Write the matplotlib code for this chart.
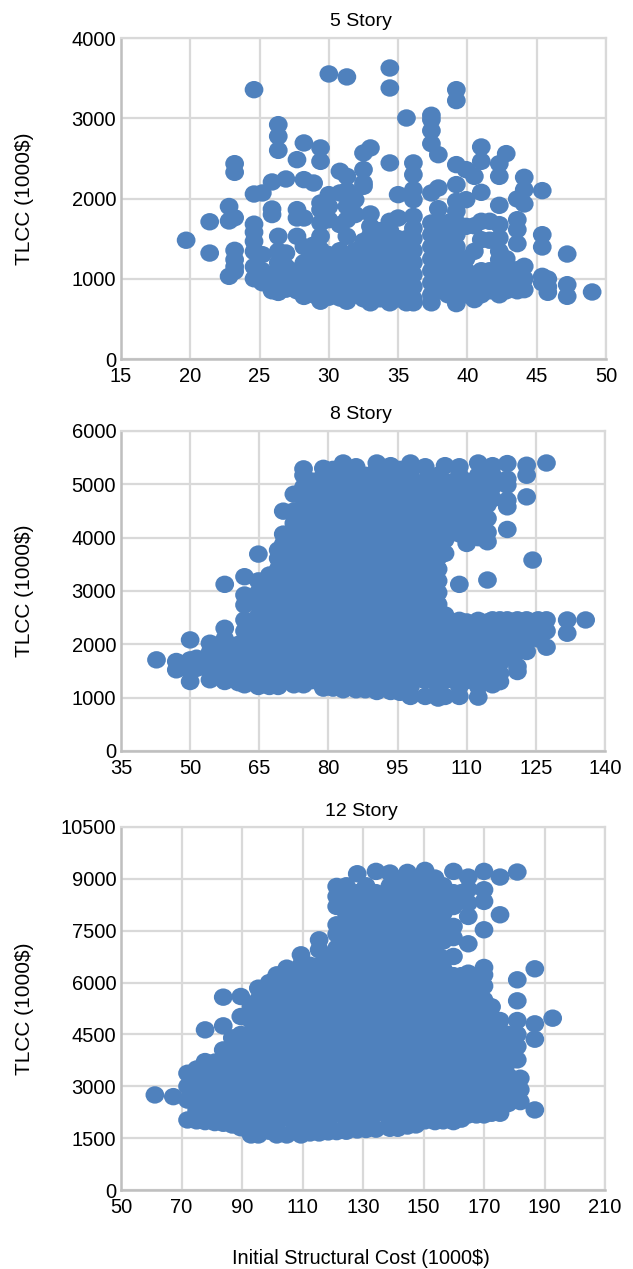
import matplotlib
matplotlib.use('Agg')
import matplotlib.pyplot as plt
from matplotlib.path import Path
from matplotlib.transforms import Affine2D
import numpy as np

plt.rcParams['font.family'] = ['Liberation Sans', 'DejaVu Sans']

# every list in y_* is one column of points at the matching x_*
x_5 = [19.7, 21.4, 22.8, 23.2, 24.6, 25.2, 25.9, 26.35, 26.9, 27.7, 28.2, 28.9, 29.4, 30.0, 30.8,
       31.3, 31.9, 32.5, 33.0, 33.7, 34.4, 35.0, 35.6, 36.1, 37.4, 37.9, 38.6, 39.2, 39.9, 40.5,
       41.0, 41.6, 42.3, 42.8, 43.6, 44.1, 45.4, 45.8, 47.2, 49.0]
y_5 = [
    [1480],
    [1710, 1320],
    [1900, 1720, 1030],
    [2434, 2326, 1760, 1354, 1238, 1150, 1093],
    [3356, 2056, 1680, 1580, 1466, 1340, 1150, 1000],
    [2069, 1300, 1100, 950],
    [2206, 1869, 1800, 1050, 900, 850],
    [2920, 2775, 2600, 1529, 1342, 1200, 1050, 900, 830],
    [2243, 1321, 1150, 1000, 870],
    [2484, 1861, 1757, 1529, 1100, 950, 850],
    [2692, 2235, 1757, 1400, 1200, 1050, 900, 780],
    [2193, 1420, 1250, 1100, 950, 800],
    [2630, 2463, 1944, 1861, 1695, 1529, 1362, 1150, 1000, 850, 720],
    [3552, 2048, 1900, 1736, 1300, 1200, 1050, 900, 770],
    [2339, 2069, 1674, 1350, 1220, 1100, 1000, 850, 760],
    [3515, 2276, 2100, 1902, 1736, 1529, 1300, 1150, 1000, 850, 720],
    [1985, 1800, 1350, 1250, 1100, 950, 800],
    [2567, 2360, 2193, 2152, 1466, 1300, 1150, 1000, 850, 750],
    [2630, 1807, 1653, 1540, 1440, 1300, 1150, 1000, 850, 700],
    [1600, 1500, 1350, 1200, 1050, 900, 750],
    [3626, 3377, 2443, 1716, 1600, 1450, 1300, 1150, 1000, 850, 700],
    [2048, 1757, 1500, 1400, 1200, 1050, 900, 750],
    [3003, 1500, 1350, 1200, 1050, 900, 700],
    [2443, 2297, 2110, 1985, 1778, 1630, 1500, 1350, 1200, 1050, 900, 750, 700],
    [3037, 2983, 2845, 2683, 2069, 1695, 1550, 1400, 1250, 1100, 950, 800, 700],
    [2546, 2131, 1873, 1700, 1600, 1450, 1300, 1150, 1000, 850],
    [1700, 1550, 1400, 1250, 1100, 950, 800],
    [3356, 3220, 2422, 2173, 1965, 1840, 1700, 1550, 1400, 1250, 1100, 950, 800, 690],
    [2360, 1985, 1653, 1250, 1100, 950, 800],
    [2276, 1660, 1342, 1000, 850, 740],
    [2642, 2463, 2077, 1716, 1487, 1100, 950, 800],
    [1716, 1480, 1100, 1000, 850],
    [2434, 2276, 1915, 1674, 1508, 1342, 1238, 1100, 950, 800],
    [2559, 1250, 1050, 950, 850],
    [1994, 1736, 1612, 1437, 1113, 950, 850],
    [2264, 2110, 1932, 1155, 1000, 864],
    [2098, 1549, 1396, 1030, 950],
    [997, 900, 831],
    [1308, 926, 781],
    [835],
]

x_8 = [42.7, 47, 50, 51.4, 54.3, 57.5, 60.5, 61.8, 64.8, 67.2, 69.1, 70.2, 72.5, 74.6, 76.5, 78.9,
       81, 83.2, 86, 88, 90.5, 93.5, 95.5, 97.8, 101, 103.8, 105.3, 108.4, 110, 112.5, 114.5,
       115.6, 117.2, 118.8, 121, 123, 124.3, 125.5, 127.3, 131.8, 135.8]
y_8 = [
    [1709],
    [1678, 1522],
    [2083, 1709, 1500, 1303],
    [1740, 1550],
    [2021, 1850, 1650, 1500, 1335],
    [3125, 2301, 2100, 1900, 1700, 1500, 1303],
    [2000, 1800, 1600, 1400, 1280],
    [3268, 2925, 2738, 2457, 2250, 2050, 1850, 1650, 1450, 1241],
    [3692, 3190, 2970, 2750, 2530, 2310, 2090, 1870, 1650, 1430, 1210],
    [3300, 3080, 2860, 2640, 2420, 2200, 1980, 1760, 1540, 1320, 1210],
    [3767, 3611, 3410, 3190, 2970, 2750, 2530, 2310, 2090, 1870, 1650, 1430, 1210],
    [4497, 4067, 3880, 3300, 3080, 2860, 2640, 2420, 2200, 1980, 1760, 1540, 1320],
    [4815, 4500, 4270, 4050, 3740, 3520, 3300, 3080, 2860, 2640, 2420, 2200, 1980, 1760, 1540, 1320, 1241],
    [5290, 5170, 4950, 4730, 4510, 4290, 4070, 3850, 3630, 3410, 3190, 2970, 2750, 2530, 2310, 2090, 1870, 1650, 1430, 1241],
    [5060, 4840, 4620, 4400, 4180, 3960, 3740, 3520, 3300, 3080, 2860, 2640, 2420, 2200, 1980, 1760, 1540, 1320],
    [5300, 5170, 4950, 4730, 4510, 4290, 4070, 3850, 3630, 3410, 3190, 2970, 2750, 2530, 2310, 2090, 1870, 1650, 1430, 1210, 1179],
    [5280, 5060, 4840, 4620, 4400, 4180, 3960, 3740, 3520, 3300, 3080, 2860, 2640, 2420, 2200, 1980, 1760, 1540, 1320, 1179],
    [5400, 5170, 4950, 4730, 4510, 4290, 4070, 3850, 3630, 3410, 3190, 2970, 2750, 2530, 2310, 2090, 1870, 1650, 1430, 1210, 1148],
    [5330, 5060, 4840, 4620, 4400, 4180, 3960, 3740, 3520, 3300, 3080, 2860, 2640, 2420, 2200, 1980, 1760, 1540, 1320, 1148],
    [5170, 4950, 4730, 4510, 4290, 4070, 3850, 3630, 3410, 3190, 2970, 2750, 2530, 2310, 2090, 1870, 1650, 1430, 1210, 1148],
    [5400, 5280, 5060, 4840, 4620, 4400, 4180, 3960, 3740, 3520, 3300, 3080, 2860, 2640, 2420, 2200, 1980, 1760, 1540, 1320, 1116],
    [5350, 5170, 4950, 4730, 4510, 4290, 4070, 3850, 3630, 3410, 3190, 2970, 2750, 2530, 2310, 2090, 1870, 1650, 1430, 1210, 1116],
    [5280, 5060, 4840, 4620, 4400, 4180, 3960, 3740, 3520, 3300, 3080, 2860, 2640, 2420, 2200, 1980, 1760, 1540, 1320, 1100],
    [5400, 5170, 4950, 4730, 4510, 4290, 4070, 3850, 3630, 3410, 3190, 2970, 2750, 2530, 2310, 2090, 1870, 1650, 1430, 1210, 1023],
    [5330, 5060, 4840, 4620, 4400, 4180, 3960, 3740, 3520, 3300, 3080, 2860, 2640, 2420, 2200, 1980, 1760, 1540, 1320, 1023],
    [5170, 4950, 4730, 4510, 4290, 4070, 3850, 3630, 3410, 3190, 2970, 2750, 2530, 2310, 2090, 1870, 1650, 1430, 1210, 992],
    [5350, 5060, 4840, 4620, 4400, 4180, 3960, 3705, 2551, 2420, 2200, 1980, 1760, 1540, 1320, 1023],
    [5330, 5170, 4950, 4730, 4510, 4290, 4070, 3125, 2450, 2310, 2090, 1870, 1650, 1430, 1210, 1023],
    [5060, 4840, 4620, 4400, 4180, 3892, 2420, 2200, 1980, 1760, 1540, 1320],
    [5400, 5170, 4950, 4730, 4510, 4290, 4000, 2450, 2310, 2090, 1870, 1650, 1430, 1210, 1010],
    [5060, 4840, 4620, 4360, 4100, 3923, 3206, 2420, 2200, 1980, 1760, 1540, 1320],
    [5350, 5170, 4950, 4730, 2460, 2310, 2090, 1870, 1650, 1430, 1241],
    [2460, 2250, 2050, 1850, 1650, 1450, 1300],
    [5389, 5100, 4983, 4700, 4578, 4154, 2460, 2200, 1980, 1760],
    [2460, 2250, 2090, 1870, 1584, 1490],
    [5358, 5170, 4765, 2460, 2250, 2050, 1865],
    [3580],
    [2460, 2300, 2100],
    [5400, 2460, 2250, 1946],
    [2457, 2208],
    [2457],
]

x_12 = [61.2, 67.3, 72, 75, 77.8, 81, 83.8, 86.8, 89.6, 93, 95.4, 99, 101.5, 104.8, 107.5, 109.5,
        112.5, 115.5, 118.5, 121.3, 124.5, 128.1, 131, 134.3, 138.9, 141.5, 144.7, 147.5, 150.5,
        153.8, 156.5, 159.9, 162.5, 164.8, 167.5, 170, 172.5, 175.3, 178, 181, 182, 186.8, 192.7]
y_12 = [
    [2750],
    [2700],
    [3377, 3000, 2600, 2026],
    [3500, 3100, 2700, 2300, 2000],
    [4632, 3715, 3300, 2900, 2500, 2100, 1978],
    [3700, 3300, 2900, 2500, 2100, 1950],
    [5578, 4748, 4053, 3700, 3300, 2900, 2500, 2100, 1930],
    [4400, 4000, 3600, 3200, 2800, 2400, 2000, 1880],
    [5597, 5018, 4500, 4100, 3700, 3300, 2900, 2500, 2100, 1800],
    [5300, 4900, 4500, 4100, 3700, 3300, 2900, 2500, 2100, 1592],
    [5838, 5500, 5100, 4700, 4300, 3900, 3500, 3100, 2700, 2300, 1900, 1592],
    [6000, 5700, 5300, 4900, 4500, 4100, 3700, 3300, 2900, 2500, 2100, 1700],
    [6224, 5900, 5500, 5100, 4700, 4300, 3900, 3500, 3100, 2700, 2300, 1900, 1592],
    [6417, 6100, 5700, 5300, 4900, 4500, 4100, 3700, 3300, 2900, 2500, 2100, 1592],
    [6300, 5900, 5500, 5100, 4700, 4300, 3900, 3500, 3100, 2700, 2300, 1900, 1700],
    [6803, 6500, 6100, 5700, 5300, 4900, 4500, 4100, 3700, 3300, 2900, 2500, 2100, 1592],
    [6500, 6300, 5900, 5500, 5100, 4700, 4300, 3900, 3500, 3100, 2700, 2300, 1900, 1650],
    [7237, 6948, 6500, 6100, 5700, 5300, 4900, 4500, 4100, 3700, 3300, 2900, 2500, 2100, 1650],
    [6700, 6300, 5900, 5500, 5100, 4700, 4300, 3900, 3500, 3100, 2700, 2300, 1900, 1680],
    [8781, 8492, 8202, 7672, 7400, 7000, 6600, 6200, 5800, 5400, 5000, 4600, 4200, 3800, 3400, 3000, 2600, 2200, 1689],
    [8800, 8400, 8000, 7600, 7200, 6800, 6400, 6000, 5600, 5200, 4800, 4400, 4000, 3600, 3200, 2800, 2400, 2000, 1700],
    [9148, 8600, 8200, 7800, 7400, 7000, 6600, 6200, 5800, 5400, 5000, 4600, 4200, 3800, 3400, 3000, 2600, 2200, 1737],
    [8800, 8400, 8000, 7600, 7200, 6800, 6400, 6000, 5600, 5200, 4800, 4400, 4000, 3600, 3200, 2800, 2400, 2000, 1750],
    [9216, 8600, 8200, 7800, 7400, 7000, 6600, 6200, 5800, 5400, 5000, 4600, 4200, 3800, 3400, 3000, 2600, 2200, 1760],
    [9168, 8800, 8400, 8000, 7600, 7200, 6800, 6400, 6000, 5600, 5200, 4800, 4400, 4000, 3600, 3200, 2800, 2400, 2000, 1785],
    [9000, 8600, 8200, 7800, 7400, 7000, 6600, 6200, 5800, 5400, 5000, 4600, 4200, 3800, 3400, 3000, 2600, 2200, 1785],
    [9187, 8800, 8400, 8000, 7600, 7200, 6800, 6400, 6000, 5600, 5200, 4800, 4400, 4000, 3600, 3200, 2800, 2400, 2000, 1850],
    [9000, 8600, 8200, 7800, 7400, 7000, 6600, 6200, 5800, 5400, 5000, 4600, 4200, 3800, 3400, 3000, 2600, 2200, 1882],
    [9245, 8800, 8400, 8000, 7600, 7200, 6800, 6400, 6000, 5600, 5200, 4800, 4400, 4000, 3600, 3200, 2800, 2400, 2000],
    [9023, 8600, 8200, 7800, 7400, 7000, 6600, 6200, 5800, 5400, 5000, 4600, 4200, 3800, 3400, 3000, 2600, 2200, 1978],
    [8800, 8400, 8000, 7600, 7200, 6700, 6400, 6000, 5600, 5200, 4800, 4400, 4000, 3600, 3200, 2800, 2400, 2000],
    [9216, 8600, 8200, 7624, 7300, 6755, 6200, 5800, 5400, 5000, 4600, 4200, 3800, 3400, 3000, 2600, 2200, 1978],
    [8600, 6200, 5900, 5500, 5100, 4700, 4300, 3900, 3500, 3100, 2700, 2300, 2050],
    [9052, 8700, 8300, 7913, 7122, 6272, 5900, 5500, 5100, 4700, 4300, 3900, 3500, 3100, 2700, 2300, 2171],
    [6100, 5700, 5300, 4900, 4500, 4100, 3700, 3300, 2900, 2500, 2171],
    [9216, 8685, 8348, 7527, 6437, 6224, 5900, 5500, 5100, 4700, 4300, 3900, 3500, 3100, 2700, 2300, 2171],
    [5300, 4900, 4500, 4100, 3700, 3300, 2900, 2500, 2220],
    [9052, 7961, 4902, 4600, 4200, 3800, 3400, 3000, 2600, 2220],
    [4500, 4100, 3700, 3300, 2900, 2500],
    [9197, 6080, 5472, 4902, 4500, 4150, 3764, 2900],
    [3233, 2900, 2557],
    [6398, 4806, 4362, 2316],
    [4970],
]

titles = ['5 Story', '8 Story', '12 Story']
xticks_5 = [15, 20, 25, 30, 35, 40, 45, 50]
yticks_5 = [0, 1000, 2000, 3000, 4000]
xticks_8 = [35, 50, 65, 80, 95, 110, 125, 140]
yticks_8 = [0, 1000, 2000, 3000, 4000, 5000, 6000]
xticks_12 = [50, 70, 90, 110, 130, 150, 170, 190, 210]
yticks_12 = [0, 1500, 3000, 4500, 6000, 7500, 9000, 10500]

W, H = 633, 1269
boxes = [(121, 606, 38, 359), (121, 605, 431, 751), (121, 605, 827, 1190)]
title_y = [21, 415, 811]
xs = [x_5, x_8, x_12]
ys = [y_5, y_8, y_12]
xt = [xticks_5, xticks_8, xticks_12]
yt = [yticks_5, yticks_8, yticks_12]

# the dots in the picture are slightly wider than tall
dot = Path.unit_circle().transformed(Affine2D().scale(1, 0.93))

fig = plt.figure(figsize=(W / 100, H / 100), dpi=100)
for i in range(3):
    l, r, t, b = boxes[i]
    ax = fig.add_axes([l / W, 1 - b / H, (r - l) / W, (b - t) / H])
    px = np.repeat(xs[i], [len(c) for c in ys[i]])
    py = np.concatenate(ys[i])
    ax.scatter(px, py, s=182, marker=dot, c='#4f81bd', edgecolors='none', clip_on=False, zorder=3)
    ax.set_xlim(xt[i][0], xt[i][-1])
    ax.set_ylim(yt[i][0], yt[i][-1])
    ax.set_xticks(xt[i])
    ax.set_yticks(yt[i])
    ax.grid(True, color='#d9d9d9', lw=1.6)
    ax.set_axisbelow(True)
    ax.tick_params(axis='x', length=0, labelsize=14.5, pad=6)
    ax.tick_params(axis='y', length=0, labelsize=14.5, pad=3.5)
    for s in ['top', 'right']:
        ax.spines[s].set_color('#d9d9d9')
        ax.spines[s].set_linewidth(1.6)
    for s in ['left', 'bottom']:
        ax.spines[s].set_color('#bfbfbf')
        ax.spines[s].set_linewidth(1.8)
    fig.text(361 / W, 1 - title_y[i] / H, titles[i], ha='center', va='center', fontsize=14)
    fig.text(25 / W, 1 - (t + b) / 2 / H, 'TLCC (1000$)', rotation=90, ha='center', va='center', fontsize=15)

fig.text(361 / W, 1 - 1258 / H, 'Initial Structural Cost (1000$)', ha='center', va='center', fontsize=14.3)
fig.savefig('out.png', dpi=100)
